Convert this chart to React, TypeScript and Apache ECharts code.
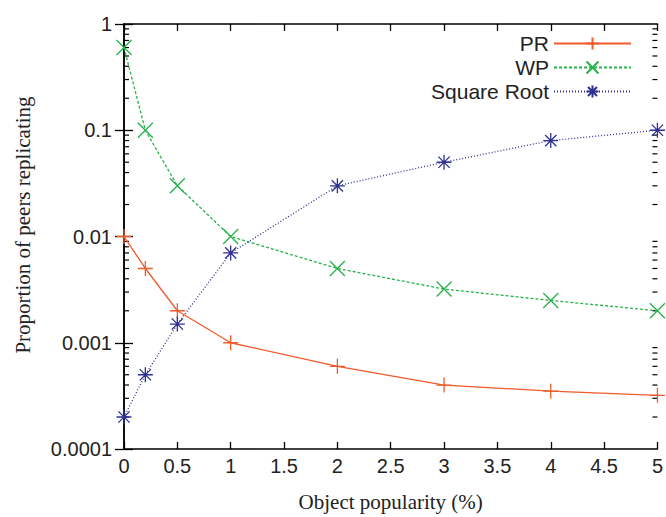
import React, { useEffect, useRef } from "react";
import * as echarts from "echarts";

const xValues = [0, 0.2, 0.5, 1, 2, 3, 4, 5];
const prValues = [0.01, 0.005, 0.002, 0.001, 0.0006, 0.0004, 0.00035, 0.00032];
const wpValues = [0.6, 0.1, 0.03, 0.01, 0.005, 0.0032, 0.0025, 0.002];
const srValues = [0.0002, 0.0005, 0.0015, 0.007, 0.03, 0.05, 0.08, 0.1];
const seriesNames = ["PR", "WP", "Square Root"];
const seriesColors = ["#f15a2b", "#25b24a", "#2e3192"];
const yTickLabels = ["0.0001", "0.001", "0.01", "0.1", "1"];
const xTickLabels = ["0", "0.5", "1", "1.5", "2", "2.5", "3", "3.5", "4", "4.5", "5"];

const plusSym = "path://M0,8L16,8M8,0L8,16";
const crossSym = "path://M0,0L16,16M16,0L0,16";
const starSym = "path://M8,0L8,16M0,8L16,8M2,2L14,14M14,2L2,14";

// minor tick positions on log axis (decoration, 2..9 in each decade)
const minorTicks: number[] = [];
for (let e = -4; e < 0; e++) {
  for (let m = 2; m <= 9; m++) minorTicks.push(m * Math.pow(10, e));
}

const sans = "'Liberation Sans', Arial, sans-serif";
const serif = "'Liberation Serif', 'Times New Roman', serif";

export default function App() {
  const ref = useRef<HTMLDivElement>(null);
  useEffect(() => {
    if (!ref.current) return;
    const chart = echarts.init(ref.current, null, { renderer: "svg" });
    const axisLine = { show: true, lineStyle: { color: "#000", width: 1.5 } };
    const mk = (i: number, vals: number[], sym: string, type: any) => ({
      name: seriesNames[i],
      type: "line",
      data: xValues.map((x, k) => [x, vals[k]]),
      symbol: sym,
      symbolSize: 15,
      showAllSymbol: true,
      lineStyle: { color: seriesColors[i], width: 1.3, type },
      itemStyle: { color: seriesColors[i], borderColor: seriesColors[i], borderWidth: 1.3 },
      clip: false,
      z: 3,
    });
    chart.setOption({
      animation: false,
      grid: { left: 124, right: 4, top: 24, bottom: 65 },
      legend: {
        data: seriesNames,
        right: 29,
        top: 28,
        orient: "vertical",
        align: "right",
        itemWidth: 77,
        itemHeight: 15,
        itemGap: 3,
        textStyle: { fontFamily: sans, fontSize: 21, color: "#222" },
      },
      xAxis: [
        {
          type: "value",
          min: 0,
          max: 5,
          interval: 0.5,
          position: "bottom",
          axisLine,
          axisTick: { inside: true, length: 7, lineStyle: { color: "#000", width: 1.3 } },
          axisLabel: {
            fontFamily: sans,
            fontSize: 20,
            color: "#222",
            margin: 7,
            formatter: (v: number) => xTickLabels[Math.round(v * 2)],
          },
          splitLine: { show: false },
          name: "Object popularity (%)",
          nameLocation: "middle",
          nameGap: 42,
          nameTextStyle: { fontFamily: serif, fontSize: 21, color: "#222" },
        },
        {
          type: "value",
          min: 0,
          max: 5,
          interval: 0.5,
          position: "top",
          axisLine,
          axisTick: { inside: true, length: 7, lineStyle: { color: "#000", width: 1.3 } },
          axisLabel: { show: false },
          splitLine: { show: false },
        },
      ],
      yAxis: [
        {
          type: "log",
          logBase: 10,
          min: 0.0001,
          max: 1,
          position: "left",
          axisLine,
          axisTick: { inside: true, length: 9, lineStyle: { color: "#000", width: 1.3 } },
          axisLabel: {
            fontFamily: sans,
            fontSize: 20,
            color: "#222",
            margin: 12,
            formatter: (v: number) => yTickLabels[Math.round(Math.log10(v)) + 4],
          },
          splitLine: { show: false },
        },
        {
          type: "log",
          logBase: 10,
          min: 0.0001,
          max: 1,
          position: "right",
          axisLine,
          axisTick: { inside: true, length: 9, lineStyle: { color: "#000", width: 1.3 } },
          axisLabel: { show: false },
          splitLine: { show: false },
        },
      ],
      graphic: [
        {
          type: "text",
          x: 23,
          y: 225,
          rotation: Math.PI / 2,
          style: {
            text: "Proportion of peers replicating",
            font: `21px ${serif}`,
            fill: "#222",
            align: "center",
            verticalAlign: "middle",
          },
        },
      ],
      series: [
        {
          type: "custom",
          silent: true,
          clip: false,
          data: minorTicks.map((v) => [0, v]),
          renderItem: (params: any, api: any) => {
            const v = api.value(1);
            const l = api.coord([0, v]);
            const r = api.coord([5, v]);
            return {
              type: "group",
              children: [
                { type: "line", shape: { x1: l[0], y1: l[1], x2: l[0] + 5, y2: l[1] }, style: { stroke: "#000", lineWidth: 1.2 } },
                { type: "line", shape: { x1: r[0], y1: r[1], x2: r[0] - 5, y2: r[1] }, style: { stroke: "#000", lineWidth: 1.2 } },
              ],
            };
          },
          z: 1,
        },
        mk(0, prValues, plusSym, "solid"),
        mk(1, wpValues, crossSym, [3, 2]),
        mk(2, srValues, starSym, [1, 2]),
      ],
    });
    return () => chart.dispose();
  }, []);
  return <div ref={ref} style={{ width: 666, height: 517, position: "absolute", left: 0, top: 0, background: "#fff" }} />;
}
